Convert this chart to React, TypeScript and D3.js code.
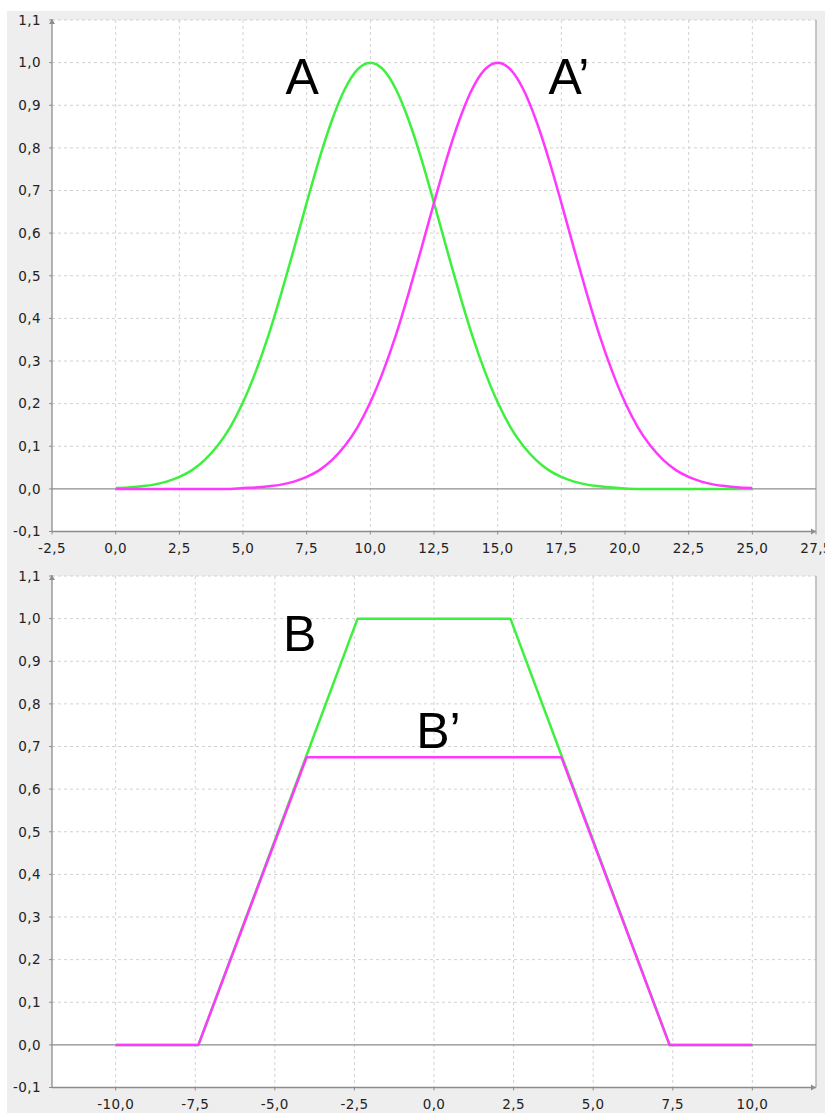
import React from 'react'
import * as d3 from 'd3'

// chart values
const yTicks = [-0.1, 0, 0.1, 0.2, 0.3, 0.4, 0.5, 0.6, 0.7, 0.8, 0.9, 1.0, 1.1]
const topXTicks = [-2.5, 0, 2.5, 5, 7.5, 10, 12.5, 15, 17.5, 20, 22.5, 25, 27.5]
const bottomXTicks = [-10, -7.5, -5, -2.5, 0, 2.5, 5, 7.5, 10]

const topX = [
  0, 0.5, 1, 1.5, 2, 2.5, 3, 3.5, 4, 4.5, 5, 5.5, 6, 6.5, 7, 7.5, 8, 8.5, 9, 9.5,
  10, 10.5, 11, 11.5, 12, 12.5, 13, 13.5, 14, 14.5, 15, 15.5, 16, 16.5, 17, 17.5,
  18, 18.5, 19, 19.5, 20, 20.5, 21, 21.5, 22, 22.5, 23, 23.5, 24, 24.5, 25
]
const seriesA = [
  0.002, 0.003, 0.006, 0.010, 0.017, 0.028, 0.044, 0.068, 0.101, 0.145, 0.203,
  0.275, 0.360, 0.458, 0.563, 0.671, 0.775, 0.866, 0.938, 0.984, 1.000,
  0.984, 0.938, 0.866, 0.775, 0.671, 0.563, 0.458, 0.360, 0.275, 0.203,
  0.145, 0.101, 0.068, 0.044, 0.028, 0.017, 0.010, 0.006, 0.003, 0.001,
  0, 0, 0, 0, 0, 0, 0, 0, 0, 0
]
const seriesA2 = [
  0, 0, 0, 0, 0, 0, 0, 0, 0, 0, 0.002,
  0.003, 0.006, 0.010, 0.017, 0.028, 0.044, 0.068, 0.101, 0.145, 0.203,
  0.275, 0.360, 0.458, 0.563, 0.671, 0.775, 0.866, 0.938, 0.984, 1.000,
  0.984, 0.938, 0.866, 0.775, 0.671, 0.563, 0.458, 0.360, 0.275, 0.203,
  0.145, 0.101, 0.068, 0.044, 0.028, 0.017, 0.010, 0.006, 0.003, 0.002
]

const bX = [-10, -7.4, -2.4, 2.4, 7.4, 10]
const seriesB = [0, 0, 1, 1, 0, 0]
const b2X = [-10, -7.4, -4.0, 4.0, 7.4, 10]
const seriesB2 = [0, 0, 0.675, 0.675, 0, 0]

const GREEN = '#3ef03e'
const MAGENTA = '#ff38ff'

const fmt = d3.formatLocale({
  decimal: ',',
  thousands: '.',
  grouping: [3],
  currency: ['', ''],
  minus: '-'
}).format('.1f')

type Series = { xs: number[], ys: number[], color: string }
type Label = { text: string, x: number, y: number }

function Chart (props: {
  top: number, bottom: number, xDomain: [number, number], xTicks: number[],
  series: Series[], labels: Label[], smooth: boolean
}) {
  const { top, bottom, xDomain, xTicks, series, labels, smooth } = props
  const left = 52
  const right = 816
  const x = d3.scaleLinear().domain(xDomain).range([left, right])
  const y = d3.scaleLinear().domain([-0.1, 1.1]).range([bottom, top])
  const line = d3.line<[number, number]>()
    .x(d => x(d[0]))
    .y(d => y(d[1]))
    .curve(smooth ? d3.curveMonotoneX : d3.curveLinear)

  return (
    <g>
      <rect x={left} y={top} width={right - left} height={bottom - top} fill='#fff' />
      {/* grid */}
      {yTicks.filter(t => t !== 0 && t !== -0.1).map(t => (
        <line key={'gy' + t} x1={left} x2={right} y1={y(t)} y2={y(t)}
          stroke='#d2d2d2' strokeDasharray='3,3' />
      ))}
      {xTicks.filter(t => x(t) > left + 1 && x(t) < right - 1).map(t => (
        <line key={'gx' + t} x1={x(t)} x2={x(t)} y1={top} y2={bottom}
          stroke='#d2d2d2' strokeDasharray='3,3' />
      ))}
      <line x1={right} x2={right} y1={top} y2={bottom} stroke='#b4b4b4' strokeWidth={1.5} />
      {/* zero line */}
      <line x1={left} x2={right} y1={y(0)} y2={y(0)} stroke='#8c8c8c' strokeWidth={1.2} />
      {/* series */}
      {series.map((s, i) => (
        <path key={i} d={line(s.xs.map((v, j) => [v, s.ys[j]] as [number, number])) || ''}
          fill='none' stroke={s.color} strokeWidth={2.5} strokeLinejoin='round' />
      ))}
      {/* axes */}
      <line x1={left} x2={left} y1={top - 1} y2={bottom} stroke='#8c8c8c' strokeWidth={1.3} />
      <line x1={left} x2={right} y1={bottom} y2={bottom} stroke='#8c8c8c' strokeWidth={1.3} />
      <path d={`M${left - 3},${top + 4} L${left},${top - 1} L${left + 3},${top + 4} Z`} fill='#8c8c8c' />
      <path d={`M${right - 5},${bottom - 3} L${right},${bottom} L${right - 5},${bottom + 3} Z`} fill='#8c8c8c' />
      {yTicks.map(t => (
        <g key={'ty' + t}>
          <line x1={left - 3} x2={left} y1={y(t)} y2={y(t)} stroke='#8c8c8c' />
          <text x={41} y={y(t)} dy='0.36em' textAnchor='end' fontSize={13.5}
            fontFamily='DejaVu Sans' letterSpacing={0.4} fill='#222'>{fmt(t)}</text>
        </g>
      ))}
      {xTicks.map(t => (
        <g key={'tx' + t}>
          <line x1={x(t)} x2={x(t)} y1={bottom} y2={bottom + 3} stroke='#8c8c8c' />
          <text x={x(t)} y={bottom + 17} dy='0.36em' textAnchor='middle' fontSize={13.5}
            fontFamily='DejaVu Sans' letterSpacing={0.4} fill='#222'>{fmt(t)}</text>
        </g>
      ))}
      {labels.map(l => (
        <text key={l.text} x={x(l.x)} y={y(l.y)} fontSize={50}
          fontFamily='Liberation Sans, Arial, sans-serif' fill='#000'>{l.text}</text>
      ))}
    </g>
  )
}

export default function App () {
  return (
    <svg width={825} height={1113} style={{ position: 'absolute', left: 0, top: 0 }}>
      <rect x={0} y={0} width={825} height={1113} fill='#fff' />
      <rect x={7} y={11} width={818} height={1102} fill='#eeeeee' />
      <Chart
        top={20} bottom={531.5} xDomain={[-2.5, 27.5]} xTicks={topXTicks} smooth
        series={[
          { xs: topX, ys: seriesA, color: GREEN },
          { xs: topX, ys: seriesA2, color: MAGENTA }
        ]}
        labels={[
          { text: 'A', x: 6.67, y: 0.927 },
          { text: 'A\u2019', x: 17.0, y: 0.927 }
        ]}
      />
      <Chart
        top={576} bottom={1087.5} xDomain={[-12, 12]} xTicks={bottomXTicks} smooth={false}
        series={[
          { xs: bX, ys: seriesB, color: GREEN },
          { xs: b2X, ys: seriesB2, color: MAGENTA }
        ]}
        labels={[
          { text: 'B', x: -4.74, y: 0.923 },
          { text: 'B\u2019', x: -0.56, y: 0.697 }
        ]}
      />
    </svg>
  )
}
